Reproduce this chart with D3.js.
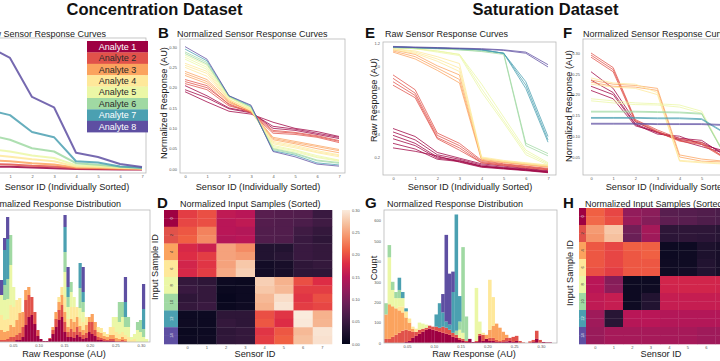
<!doctype html>
<html>
<head>
<style>
  body { margin: 0; background: #fff; }
  svg { display: block; font-family: 'Liberation Sans', Arial, sans-serif; }
  .title { font-size: 16.5px; font-weight: 700; fill: #111; }
  .letter { font-size: 15px; font-weight: 700; fill: #111; }
  .ptitle { font-size: 9px; fill: #222; }
  .label { font-size: 9.2px; fill: #222; }
  .tick text { font-size: 4px; fill: #555; }
  .frame { fill: none; stroke: #b8b8b8; stroke-width: 0.8; }
  .legend text { font-size: 9px; }
</style>
<script src="https://cdn.jsdelivr.net/npm/d3@7"></script>
</head>
<body>
<svg width="720" height="361"></svg>
<script>
const analytes = ['Analyte 1', 'Analyte 2', 'Analyte 3', 'Analyte 4', 'Analyte 5', 'Analyte 6', 'Analyte 7', 'Analyte 8'];
const sensors = [0, 1, 2, 3, 4, 5, 6, 7];

// A: raw curves, concentration dataset  [analyte, values per sensor]
const concRaw = [
  [0, [0.035, 0.032, 0.026, 0.022, 0.016, 0.014, 0.012, 0.011]],
  [1, [0.055, 0.05, 0.04, 0.034, 0.022, 0.019, 0.016, 0.014]],
  [2, [0.085, 0.075, 0.06, 0.05, 0.027, 0.024, 0.02, 0.017]],
  [3, [0.125, 0.11, 0.09, 0.075, 0.035, 0.03, 0.024, 0.02]],
  [4, [0.17, 0.15, 0.12, 0.1, 0.045, 0.038, 0.028, 0.022]],
  [5, [0.28, 0.24, 0.175, 0.15, 0.06, 0.048, 0.032, 0.024]],
  [6, [0.47, 0.43, 0.30, 0.26, 0.075, 0.065, 0.035, 0.025]],
  [7, [0.96, 0.87, 0.57, 0.49, 0.14, 0.108, 0.054, 0.03]]
];

// B: normalized curves, concentration dataset
const concNorm = [
  [0, [0.195, 0.175, 0.148, 0.138, 0.105, 0.098, 0.088, 0.078]],
  [0, [0.19, 0.165, 0.142, 0.135, 0.115, 0.10, 0.092, 0.080]],
  [0, [0.205, 0.18, 0.15, 0.14, 0.10, 0.095, 0.085, 0.075]],
  [1, [0.215, 0.20, 0.16, 0.14, 0.092, 0.088, 0.08, 0.068]],
  [1, [0.22, 0.205, 0.158, 0.138, 0.088, 0.085, 0.078, 0.065]],
  [1, [0.21, 0.195, 0.155, 0.142, 0.095, 0.09, 0.082, 0.07]],
  [2, [0.235, 0.215, 0.165, 0.142, 0.075, 0.065, 0.055, 0.045]],
  [2, [0.24, 0.22, 0.168, 0.14, 0.072, 0.062, 0.05, 0.04]],
  [2, [0.23, 0.21, 0.163, 0.143, 0.078, 0.068, 0.058, 0.048]],
  [3, [0.255, 0.235, 0.17, 0.145, 0.065, 0.055, 0.042, 0.033]],
  [3, [0.26, 0.24, 0.172, 0.143, 0.062, 0.052, 0.04, 0.03]],
  [3, [0.25, 0.228, 0.17, 0.146, 0.068, 0.058, 0.045, 0.035]],
  [4, [0.275, 0.25, 0.176, 0.148, 0.055, 0.045, 0.03, 0.021]],
  [4, [0.27, 0.245, 0.175, 0.15, 0.058, 0.047, 0.033, 0.022]],
  [4, [0.28, 0.255, 0.177, 0.147, 0.052, 0.042, 0.028, 0.019]],
  [5, [0.288, 0.262, 0.179, 0.152, 0.048, 0.037, 0.02, 0.014]],
  [5, [0.284, 0.258, 0.178, 0.153, 0.05, 0.039, 0.022, 0.016]],
  [6, [0.295, 0.266, 0.18, 0.155, 0.045, 0.034, 0.015, 0.01]],
  [7, [0.301, 0.27, 0.18, 0.157, 0.043, 0.03, 0.012, 0.007]]
];

// E: raw curves, saturation dataset
const satRaw = [
  [0, [0.45, 0.38, 0.24, 0.19, 0.14, 0.12, 0.1, 0.08]],
  [0, [0.42, 0.35, 0.22, 0.18, 0.13, 0.11, 0.095, 0.075]],
  [0, [0.39, 0.32, 0.2, 0.17, 0.12, 0.105, 0.09, 0.07]],
  [0, [0.36, 0.30, 0.19, 0.165, 0.12, 0.10, 0.085, 0.068]],
  [0, [0.32, 0.27, 0.18, 0.16, 0.115, 0.10, 0.085, 0.065]],
  [0, [0.28, 0.25, 0.21, 0.155, 0.11, 0.095, 0.08, 0.062]],
  [1, [0.92, 0.79, 0.41, 0.32, 0.17, 0.14, 0.12, 0.1]],
  [1, [0.89, 0.76, 0.39, 0.30, 0.16, 0.135, 0.115, 0.095]],
  [1, [0.86, 0.74, 0.37, 0.28, 0.15, 0.13, 0.11, 0.09]],
  [1, [0.83, 0.72, 0.36, 0.26, 0.15, 0.125, 0.105, 0.088]],
  [2, [1.14, 1.1, 1.0, 0.92, 0.19, 0.16, 0.14, 0.12]],
  [2, [1.13, 1.08, 0.98, 0.88, 0.18, 0.155, 0.135, 0.115]],
  [2, [1.12, 1.06, 0.96, 0.85, 0.17, 0.15, 0.13, 0.11]],
  [3, [1.15, 1.13, 1.08, 1.02, 0.2, 0.17, 0.15, 0.13]],
  [3, [1.15, 1.12, 1.06, 0.98, 0.19, 0.165, 0.145, 0.125]],
  [3, [1.14, 1.11, 1.04, 0.95, 0.19, 0.16, 0.14, 0.12]],
  [4, [1.16, 1.15, 1.13, 1.1, 0.84, 0.55, 0.26, 0.15]],
  [4, [1.16, 1.15, 1.13, 1.1, 0.8, 0.52, 0.24, 0.14]],
  [4, [1.16, 1.15, 1.12, 1.09, 0.77, 0.5, 0.22, 0.13]],
  [5, [1.16, 1.155, 1.15, 1.14, 1.13, 1.11, 0.32, 0.23]],
  [5, [1.16, 1.155, 1.15, 1.14, 1.125, 1.1, 0.3, 0.21]],
  [6, [1.165, 1.16, 1.155, 1.15, 1.14, 1.11, 0.86, 0.38]],
  [6, [1.165, 1.16, 1.155, 1.15, 1.14, 1.11, 0.83, 0.35]],
  [6, [1.165, 1.16, 1.155, 1.15, 1.14, 1.11, 0.8, 0.33]],
  [7, [1.17, 1.165, 1.16, 1.155, 1.15, 1.14, 1.12, 1.01]],
  [7, [1.165, 1.16, 1.155, 1.15, 1.145, 1.135, 1.11, 0.99]]
];

// F: normalized curves, saturation dataset
const satNorm = [
  [0, [0.255, 0.215, 0.135, 0.11, 0.095, 0.09, 0.055, 0.045]],
  [0, [0.235, 0.205, 0.13, 0.108, 0.092, 0.085, 0.06, 0.05]],
  [0, [0.22, 0.2, 0.128, 0.105, 0.1, 0.08, 0.065, 0.05]],
  [0, [0.21, 0.19, 0.125, 0.11, 0.09, 0.075, 0.06, 0.05]],
  [1, [0.30, 0.265, 0.14, 0.115, 0.094, 0.085, 0.05, 0.04]],
  [1, [0.295, 0.26, 0.138, 0.112, 0.09, 0.082, 0.05, 0.04]],
  [1, [0.29, 0.255, 0.135, 0.11, 0.088, 0.08, 0.048, 0.04]],
  [2, [0.235, 0.225, 0.222, 0.215, 0.055, 0.045, 0.04, 0.035]],
  [2, [0.23, 0.22, 0.218, 0.21, 0.05, 0.04, 0.038, 0.032]],
  [3, [0.24, 0.228, 0.225, 0.205, 0.042, 0.038, 0.035, 0.03]],
  [3, [0.225, 0.218, 0.215, 0.2, 0.04, 0.036, 0.033, 0.03]],
  [4, [0.19, 0.185, 0.18, 0.178, 0.175, 0.16, 0.06, 0.04]],
  [4, [0.185, 0.18, 0.176, 0.175, 0.17, 0.155, 0.058, 0.038]],
  [5, [0.16, 0.16, 0.16, 0.159, 0.158, 0.155, 0.06, 0.05]],
  [5, [0.158, 0.158, 0.158, 0.157, 0.156, 0.153, 0.058, 0.048]],
  [6, [0.145, 0.145, 0.145, 0.144, 0.144, 0.142, 0.11, 0.04]],
  [6, [0.143, 0.143, 0.143, 0.142, 0.142, 0.14, 0.108, 0.04]],
  [7, [0.131, 0.131, 0.131, 0.13, 0.13, 0.13, 0.128, 0.11]],
  [7, [0.129, 0.129, 0.129, 0.128, 0.128, 0.128, 0.126, 0.108]]
];

// C: stacked histogram, counts per bin for analytes 1..8
const concBinStart = 0.0246, concBinWidth = 0.0059;
const concHist = [
  [0, 2, 10, 15, 20, 0, 0, 15], [0, 2, 8, 12, 20, 15, 35, 12], [0, 3, 8, 12, 20, 20, 40, 22],
  [0, 5, 12, 20, 40, 30, 0, 0], [0, 5, 10, 20, 20, 0, 0, 0], [2, 5, 15, 20, 0, 0, 0, 0],
  [2, 7, 20, 15, 0, 0, 0, 0], [5, 10, 15, 0, 0, 0, 0, 0], [17, 25, 10, 0, 0, 0, 0, 0],
  [25, 22, 8, 0, 0, 0, 0, 0], [27, 18, 0, 0, 0, 0, 0, 0], [18, 12, 0, 0, 0, 0, 0, 0],
  [6, 6, 0, 0, 0, 0, 0, 0], [3, 0, 0, 0, 0, 0, 0, 0], [1, 0, 0, 0, 0, 0, 0, 0],
  [1, 0, 0, 0, 0, 0, 0, 0], [3, 1, 0, 0, 0, 0, 0, 0], [8, 4, 3, 0, 0, 0, 0, 0],
  [15, 8, 7, 0, 0, 0, 0, 0], [22, 10, 8, 5, 0, 0, 0, 0], [25, 12, 10, 8, 0, 0, 0, 0],
  [10, 10, 10, 15, 25, 20, 25, 12], [5, 5, 5, 8, 12, 10, 10, 20], [5, 8, 10, 12, 15, 10, 0, 0],
  [4, 6, 10, 15, 10, 0, 0, 0], [7, 8, 10, 10, 0, 0, 0, 0], [5, 5, 6, 8, 10, 20, 25, 0],
  [3, 4, 5, 8, 10, 10, 10, 25], [4, 5, 8, 8, 0, 0, 0, 0], [10, 10, 5, 0, 0, 0, 0, 0],
  [8, 12, 8, 0, 0, 0, 0, 0], [6, 6, 8, 0, 0, 0, 0, 0], [2, 3, 5, 5, 0, 0, 0, 0],
  [2, 2, 5, 5, 0, 0, 0, 0], [1, 2, 3, 4, 0, 0, 0, 0], [1, 1, 3, 3, 0, 0, 0, 0],
  [1, 2, 4, 8, 0, 0, 0, 0], [1, 2, 4, 8, 10, 0, 0, 0], [0, 1, 3, 6, 15, 0, 0, 0],
  [0, 1, 2, 5, 12, 20, 0, 0], [0, 2, 3, 5, 15, 15, 0, 0], [0, 1, 2, 4, 8, 10, 15, 25],
  [0, 0, 0, 5, 10, 10, 0, 0], [0, 0, 0, 2, 3, 0, 0, 0], [0, 0, 0, 3, 5, 0, 0, 0],
  [0, 0, 0, 0, 12, 8, 0, 0], [0, 0, 0, 0, 10, 12, 0, 0], [0, 0, 0, 0, 5, 8, 20, 25],
  [0, 0, 0, 0, 3, 0, 0, 0]
];

// G: stacked histogram, saturation dataset
const satBinStart = 0.0075, satBinWidth = 0.00625;
const satHist = [
  [0, 20, 120, 0, 0, 55, 0, 0], [0, 20, 170, 0, 230, 60, 0, 0], [0, 30, 150, 0, 80, 40, 0, 0],
  [0, 40, 130, 0, 50, 30, 0, 0], [0, 50, 110, 20, 40, 40, 60, 0], [0, 60, 90, 30, 40, 0, 30, 0],
  [5, 60, 60, 30, 0, 0, 15, 0], [10, 50, 40, 20, 0, 0, 0, 0], [25, 30, 15, 10, 0, 0, 0, 0],
  [35, 20, 0, 15, 0, 0, 0, 0], [45, 20, 0, 0, 35, 0, 0, 0], [55, 15, 0, 0, 25, 0, 0, 0],
  [65, 10, 0, 0, 15, 0, 0, 0], [70, 15, 0, 0, 0, 0, 0, 0], [65, 15, 0, 0, 0, 0, 0, 0],
  [60, 20, 0, 0, 0, 0, 60, 0], [55, 20, 0, 0, 0, 0, 120, 0], [50, 30, 0, 0, 0, 0, 70, 90],
  [45, 30, 0, 0, 0, 0, 30, 425], [40, 25, 0, 0, 0, 0, 25, 250], [30, 20, 0, 0, 0, 0, 200, 100],
  [25, 15, 0, 0, 0, 20, 570, 0], [15, 10, 0, 0, 40, 40, 125, 0], [10, 10, 0, 0, 30, 420, 0, 0],
  [5, 5, 0, 0, 0, 120, 0, 0], [20, 0, 0, 0, 0, 0, 0, 0], [5, 0, 0, 0, 0, 0, 0, 0],
  [5, 5, 0, 0, 260, 0, 0, 0], [35, 10, 0, 0, 60, 0, 0, 0], [10, 30, 0, 10, 0, 0, 0, 0],
  [20, 0, 20, 0, 0, 0, 0, 0], [10, 15, 40, 245, 0, 0, 0, 0], [10, 15, 60, 140, 0, 0, 0, 0],
  [5, 10, 80, 0, 0, 0, 0, 0], [5, 5, 65, 0, 0, 0, 0, 0], [5, 10, 40, 0, 0, 0, 0, 0],
  [8, 17, 15, 0, 0, 0, 0, 0], [10, 15, 0, 0, 0, 0, 0, 0], [5, 25, 0, 0, 0, 0, 0, 0],
  [10, 25, 0, 0, 0, 0, 0, 0], [0, 10, 0, 0, 0, 0, 0, 0], [0, 3, 0, 0, 0, 0, 0, 0],
  [0, 0, 0, 0, 0, 0, 0, 0], [0, 8, 0, 0, 0, 0, 0, 0], [5, 10, 0, 0, 0, 0, 0, 0],
  [20, 40, 0, 0, 0, 0, 0, 0], [0, 15, 0, 0, 0, 0, 0, 0], [5, 0, 0, 0, 0, 0, 0, 0],
  [3, 0, 0, 0, 0, 0, 0, 0], [3, 0, 0, 0, 0, 0, 0, 0]
];

// D / H: normalized input samples, 16 samples x 8 sensors
const concHeat = [
  [0.19, 0.20, 0.155, 0.15, 0.075, 0.072, 0.07, 0.05],
  [0.195, 0.20, 0.15, 0.155, 0.072, 0.07, 0.065, 0.055],
  [0.205, 0.23, 0.15, 0.145, 0.07, 0.07, 0.055, 0.045],
  [0.21, 0.235, 0.145, 0.15, 0.07, 0.068, 0.05, 0.04],
  [0.175, 0.165, 0.25, 0.235, 0.03, 0.03, 0.05, 0.045],
  [0.18, 0.19, 0.25, 0.245, 0.03, 0.035, 0.05, 0.045],
  [0.17, 0.185, 0.25, 0.275, 0.015, 0.02, 0.04, 0.045],
  [0.175, 0.19, 0.255, 0.28, 0.015, 0.02, 0.04, 0.04],
  [0.045, 0.04, 0.01, 0.008, 0.28, 0.26, 0.2, 0.18],
  [0.05, 0.045, 0.008, 0.01, 0.275, 0.265, 0.19, 0.19],
  [0.04, 0.045, 0.005, 0.01, 0.265, 0.29, 0.185, 0.2],
  [0.045, 0.05, 0.008, 0.012, 0.26, 0.295, 0.19, 0.195],
  [0.01, 0.01, 0.04, 0.04, 0.2, 0.185, 0.3, 0.26],
  [0.012, 0.01, 0.045, 0.04, 0.205, 0.18, 0.298, 0.262],
  [0.008, 0.01, 0.04, 0.045, 0.185, 0.205, 0.265, 0.295],
  [0.01, 0.012, 0.042, 0.045, 0.19, 0.21, 0.27, 0.293]
];
const satHeat = [
  [0.21, 0.195, 0.12, 0.115, 0.075, 0.073, 0.07, 0.065],
  [0.215, 0.20, 0.125, 0.11, 0.08, 0.075, 0.068, 0.065],
  [0.245, 0.275, 0.095, 0.135, 0.04, 0.04, 0.04, 0.035],
  [0.24, 0.27, 0.09, 0.13, 0.038, 0.04, 0.038, 0.035],
  [0.205, 0.195, 0.21, 0.21, 0.01, 0.01, 0.025, 0.02],
  [0.205, 0.195, 0.205, 0.21, 0.01, 0.012, 0.025, 0.02],
  [0.205, 0.195, 0.205, 0.205, 0.012, 0.012, 0.03, 0.02],
  [0.2, 0.19, 0.205, 0.205, 0.012, 0.015, 0.03, 0.02],
  [0.15, 0.11, 0.01, 0.01, 0.17, 0.17, 0.17, 0.17],
  [0.15, 0.115, 0.01, 0.012, 0.168, 0.17, 0.17, 0.168],
  [0.155, 0.16, 0.01, 0.03, 0.16, 0.16, 0.16, 0.16],
  [0.155, 0.16, 0.012, 0.03, 0.16, 0.16, 0.16, 0.16],
  [0.13, 0.035, 0.15, 0.15, 0.145, 0.145, 0.145, 0.145],
  [0.13, 0.035, 0.148, 0.15, 0.145, 0.145, 0.145, 0.145],
  [0.125, 0.135, 0.135, 0.135, 0.135, 0.135, 0.13, 0.13],
  [0.125, 0.135, 0.135, 0.135, 0.135, 0.135, 0.13, 0.13]
];

const normTicks = [0.00, 0.05, 0.10, 0.15, 0.20, 0.25, 0.30];
const rawTicksSat = [0.2, 0.4, 0.6, 0.8, 1.0, 1.2];
const respTicks = [0.05, 0.10, 0.15, 0.20, 0.25, 0.30];
const countTicks = [0, 100, 200, 300, 400, 500, 600];
const sensorTicksA = [1, 2, 3, 4, 5, 6, 7];
const sensorTicksF = [0, 1, 2, 3, 4, 5];
const sensorTicksH = [0, 1, 2, 3, 4, 5, 6];

const color = (i) => d3.interpolateSpectral(i / 7);
const rocketStops = ['#03051a', '#221331', '#451c47', '#6a1f56', '#921c5b', '#b91657', '#dd2c45', '#f06043', '#f5936a', '#f6c19f', '#faebdd'];
const heatColor = d3.scaleLinear()
  .domain(d3.range(11).map((k) => k * 0.03))
  .range(rocketStops)
  .clamp(true);

const svg = d3.select('svg');
const defs = svg.append('defs');

function frame(b) {
  svg.append('rect').attr('class', 'frame')
    .attr('x', b[0]).attr('y', b[1]).attr('width', b[2] - b[0]).attr('height', b[3] - b[1]);
}

function clipFor(id, b) {
  defs.append('clipPath').attr('id', id).append('rect')
    .attr('x', b[0]).attr('y', b[1]).attr('width', b[2] - b[0]).attr('height', b[3] - b[1]);
  return `url(#${id})`;
}

function xAxis(scale, ticks, y, fmt) {
  svg.append('g').attr('transform', `translate(0,${y})`)
    .call(d3.axisBottom(scale).tickValues(ticks).tickSize(0).tickPadding(1).tickFormat(fmt))
    .call((g) => g.select('.domain').remove());
}

function yAxis(scale, ticks, x, fmt) {
  svg.append('g').attr('transform', `translate(${x},0)`)
    .call(d3.axisLeft(scale).tickValues(ticks).tickSize(0).tickPadding(1).tickFormat(fmt))
    .call((g) => g.select('.domain').remove());
}

function linePanel(id, box, xRange, y, lines, width, ticks) {
  const x = d3.scaleLinear().domain([0, 7]).range(xRange);
  const line = d3.line().x((d, i) => x(i)).y((d) => y(d));
  svg.append('g').attr('clip-path', clipFor(id, box))
    .selectAll('path').data(lines).join('path')
    .attr('d', (d) => line(d[1]))
    .attr('fill', 'none')
    .attr('stroke', (d) => color(d[0]))
    .attr('stroke-width', width)
    .attr('stroke-opacity', 0.85)
    .attr('stroke-linejoin', 'round');
  frame(box);
  xAxis(x, ticks, box[3] + 1.5, d3.format('d'));
  return x;
}

function histPanel(id, box, x, y, rows, start, w) {
  const series = d3.stack().keys(d3.range(8))(rows);
  svg.append('g').attr('clip-path', clipFor(id, box))
    .selectAll('g').data(series).join('g')
    .attr('fill', (s) => color(s.key))
    .selectAll('rect').data((s) => s).join('rect')
    .attr('x', (d, i) => x(start + i * w))
    .attr('width', (d, i) => x(start + (i + 1) * w) - x(start + i * w) + 0.2)
    .attr('y', (d) => y(d[1]))
    .attr('height', (d) => y(d[0]) - y(d[1]));
  frame(box);
}

function heatPanel(box, strip, data, ticks) {
  const x = d3.scaleBand().domain(sensors).range([box[0], box[2]]);
  const y = d3.scaleBand().domain(d3.range(data.length)).range([box[1], box[3]]);
  const g = svg.append('g');
  data.forEach((row, r) => {
    g.selectAll(null).data(row).join('rect')
      .attr('x', (d, c) => x(c)).attr('y', y(r))
      .attr('width', x.bandwidth() + 0.3).attr('height', y.bandwidth() + 0.3)
      .attr('fill', (d) => heatColor(d));
  });
  g.selectAll('.strip').data(d3.range(data.length)).join('rect')
    .attr('x', strip[0]).attr('width', strip[1] - strip[0])
    .attr('y', (r) => y(r)).attr('height', y.bandwidth() + 0.3)
    .attr('fill', (r) => color(Math.floor(r / 2)));
  g.selectAll('.rowlab').data(d3.range(0, data.length, 2)).join('text')
    .attr('transform', (r) => `translate(${(strip[0] + strip[1]) / 2 + 1.5},${y(r) + y.bandwidth()}) rotate(-90)`)
    .attr('text-anchor', 'middle')
    .style('font-size', '4px')
    .attr('fill', (r) => (r < 2 || r > 11 ? '#eee' : '#333'))
    .text((r) => r);
  xAxis(x, ticks, box[3] + 1.5, d3.format('d'));
}

// ---------- top row ----------
const boxA = [-22, 38, 146, 173];
const yA = d3.scaleLinear().domain([0, 1]).range([171, 41]);
linePanel('clipA', boxA, [-12, 142], yA, concRaw, 2, sensorTicksA);

const legend = svg.append('g').attr('class', 'legend');
legend.selectAll('rect').data(analytes).join('rect')
  .attr('x', 87).attr('width', 61)
  .attr('y', (d, i) => 41 + i * 11.4).attr('height', 11.6)
  .attr('fill', (d, i) => color(i));
legend.selectAll('text').data(analytes).join('text')
  .attr('x', 117.5).attr('y', (d, i) => 41 + i * 11.4 + 8.8)
  .attr('text-anchor', 'middle')
  .attr('fill', (d, i) => (i === 0 || i >= 6 ? '#fff' : '#2a2a2a'))
  .text((d) => d);

const boxB = [180, 39, 345, 173];
const yB = d3.scaleLinear().domain([0, 0.30]).range([169, 47]);
linePanel('clipB', boxB, [185, 339], yB, concNorm, 0.9, sensors);
yAxis(yB, normTicks, 178, d3.format('.2f'));

const boxE = [383, 42, 556, 175];
const yE = d3.scaleLinear().domain([0.2, 1.2]).range([157, 43]);
linePanel('clipE', boxE, [393, 548], yE, satRaw, 0.9, sensors);
yAxis(yE, rawTicksSat, 381, d3.format('.1f'));

const boxF = [583, 39, 760, 175];
const yF = d3.scaleLinear().domain([0.05, 0.30]).range([157, 53]);
linePanel('clipF', boxF, [591, 746], yF, satNorm, 0.9, sensorTicksF);
yAxis(yF, respTicks, 581, d3.format('.2f'));

// ---------- bottom row ----------
const boxC = [-22, 210, 150, 342];
const xC = d3.scaleLinear().domain([0.05, 0.30]).range([13, 141]);
const yC = d3.scaleLinear().domain([0, 132]).range([342, 210]);
histPanel('clipC', boxC, xC, yC, concHist, concBinStart, concBinWidth);
xAxis(xC, respTicks, 343.5, d3.format('.2f'));

heatPanel([178, 210, 332, 344], [164, 178], concHeat, sensors);

// colorbar for D
const grad = defs.append('linearGradient').attr('id', 'cbar')
  .attr('x1', 0).attr('y1', 1).attr('x2', 0).attr('y2', 0);
grad.selectAll('stop').data(rocketStops).join('stop')
  .attr('offset', (d, i) => i / 10).attr('stop-color', (d) => d);
const cbY = d3.scaleLinear().domain([0, 0.30]).range([344, 210]);
svg.append('rect').attr('x', 342).attr('y', 210).attr('width', 8).attr('height', 134)
  .attr('fill', 'url(#cbar)');
svg.append('g').attr('transform', 'translate(350,0)')
  .call(d3.axisRight(cbY).tickValues(normTicks).tickSize(0).tickPadding(2).tickFormat(d3.format('.2f')))
  .call((g) => g.select('.domain').remove());

const boxG = [384, 210, 557, 343];
const xG = d3.scaleLinear().domain([0.05, 0.30]).range([407, 541]);
const yG = d3.scaleLinear().domain([0, 600]).range([343, 220.6]);
histPanel('clipG', boxG, xG, yG, satHist, satBinStart, satBinWidth);
xAxis(xG, respTicks, 344.5, d3.format('.2f'));
yAxis(yG, countTicks, 382, d3.format('d'));

heatPanel([586, 208, 734, 344], [579, 586], satHeat, sensorTicksH);

// ---------- text ----------
const texts = [
  ['title', 154.5, 14.5, 'middle', 'Concentration Dataset'],
  ['title', 545.5, 14.5, 'middle', 'Saturation Dataset'],
  ['letter', 158, 37.5, 'start', 'B'],
  ['letter', 365, 37.5, 'start', 'E'],
  ['letter', 563, 37.5, 'start', 'F'],
  ['letter', 157, 208, 'start', 'D'],
  ['letter', 365, 208, 'start', 'G'],
  ['letter', 563, 208, 'start', 'H'],
  ['ptitle', 106, 37, 'end', 'Raw Sensor Response Curves'],
  ['ptitle', 177, 37, 'start', 'Normalized Sensor Response Curves'],
  ['ptitle', 385, 37, 'start', 'Raw Sensor Response Curves'],
  ['ptitle', 583, 37, 'start', 'Normalized Sensor Response Curves'],
  ['ptitle', 121, 206.5, 'end', 'Normalized Response Distribution'],
  ['ptitle', 180, 206.5, 'start', 'Normalized Input Samples (Sorted)'],
  ['ptitle', 387, 206.5, 'start', 'Normalized Response Distribution'],
  ['ptitle', 585, 206.5, 'start', 'Normalized Input Samples (Sorted)'],
  ['label', 67, 190, 'middle', 'Sensor ID (Individually Sorted)'],
  ['label', 258, 190, 'middle', 'Sensor ID (Individually Sorted)'],
  ['label', 470, 190, 'middle', 'Sensor ID (Individually Sorted)'],
  ['label', 668, 190, 'middle', 'Sensor ID (Individually Sorted)'],
  ['label', 64, 357, 'middle', 'Raw Response (AU)'],
  ['label', 255, 357, 'middle', 'Sensor ID'],
  ['label', 474, 357, 'middle', 'Raw Response (AU)'],
  ['label', 661, 357, 'middle', 'Sensor ID']
];
svg.selectAll('.t').data(texts).join('text')
  .attr('class', (d) => d[0])
  .attr('x', (d) => d[1]).attr('y', (d) => d[2])
  .attr('text-anchor', (d) => d[3])
  .text((d) => d[4]);

const vlabels = [
  [166.5, 103, 'Normalized Response (AU)'],
  [377, 100, 'Raw Response (AU)'],
  [572, 106, 'Normalized Response (AU)'],
  [157.5, 267, 'Input Sample ID'],
  [377, 268, 'Count'],
  [573, 273, 'Input Sample ID']
];
svg.selectAll('.v').data(vlabels).join('text')
  .attr('class', 'label')
  .attr('transform', (d) => `translate(${d[0]},${d[1]}) rotate(-90)`)
  .attr('text-anchor', 'middle')
  .text((d) => d[2]);
</script>
</body>
</html>
